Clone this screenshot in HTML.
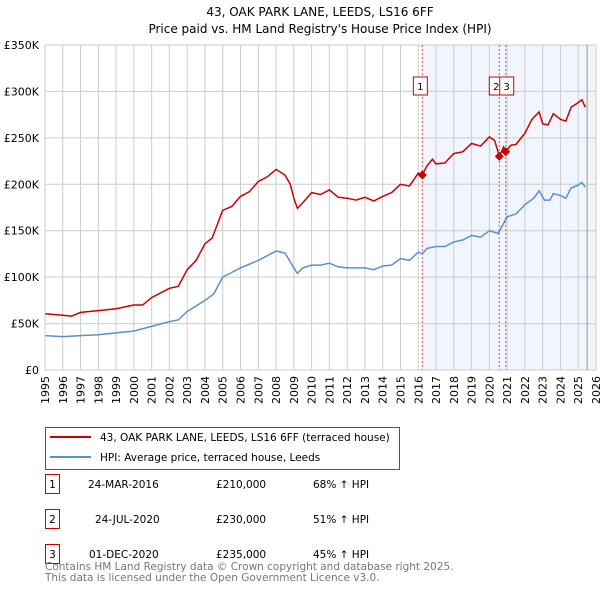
<!DOCTYPE html>
<html><head><meta charset="utf-8"><style>
body{margin:0;background:#fff;font-family:"Liberation Sans","DejaVu Sans",sans-serif;}
svg text{font-family:"DejaVu Sans","Liberation Sans",sans-serif;}
</style></head><body>
<svg id="c" width="600" height="590" xmlns="http://www.w3.org/2000/svg">
<text x="320" y="16" text-anchor="middle" font-size="12" fill="#000">43, OAK PARK LANE, LEEDS, LS16 6FF</text>
<text x="320" y="33" text-anchor="middle" font-size="12" fill="#000">Price paid vs. HM Land Registry's House Price Index (HPI)</text>
<g id="plot"></g>
<g>
<rect x="45.5" y="427.5" width="354" height="42" fill="#fff" stroke="#555"/>
<line x1="50" y1="437" x2="91" y2="437" stroke="#cc0000" stroke-width="2"/>
<text x="100" y="441" font-size="10.5">43, OAK PARK LANE, LEEDS, LS16 6FF (terraced house)</text>
<line x1="50" y1="457" x2="91" y2="457" stroke="#5b8fd4" stroke-width="2"/>
<text x="100" y="461" font-size="10.5">HPI: Average price, terraced house, Leeds</text>
</g>
<g font-size="10.5">
<rect x="45.5" y="474.5" width="14" height="19" fill="none" stroke="#cc0000"/><text x="52.5" y="488" text-anchor="middle">1</text>
<text x="88" y="488">24-MAR-2016</text><text x="216" y="488">£210,000</text><text x="313" y="488">68% ↑ HPI</text>
<rect x="45.5" y="509.5" width="14" height="19" fill="none" stroke="#cc0000"/><text x="52.5" y="523" text-anchor="middle">2</text>
<text x="95" y="523">24-JUL-2020</text><text x="216" y="523">£230,000</text><text x="313" y="523">51% ↑ HPI</text>
<rect x="45.5" y="544.5" width="14" height="19" fill="none" stroke="#cc0000"/><text x="52.5" y="558" text-anchor="middle">3</text>
<text x="89" y="558">01-DEC-2020</text><text x="216" y="558">£235,000</text><text x="313" y="558">45% ↑ HPI</text>
</g>
<text x="45" y="570" font-size="10.5" fill="#777">Contains HM Land Registry data © Crown copyright and database right 2025.</text>
<text x="45" y="581" font-size="10.5" fill="#777">This data is licensed under the Open Government Licence v3.0.</text>
</svg>
<script>
const yTicks=[0,50,100,150,200,250,300,350];
const yTickLabels=["£0","£50K","£100K","£150K","£200K","£250K","£300K","£350K"];
const years=[1995,1996,1997,1998,1999,2000,2001,2002,2003,2004,2005,2006,2007,2008,2009,2010,2011,2012,2013,2014,2015,2016,2017,2018,2019,2020,2021,2022,2023,2024,2025,2026];
const redT=[1995,1996,1996.5,1997,1998,1999,2000,2000.5,2001,2002,2002.5,2003,2003.5,2004,2004.4,2005,2005.5,2006,2006.5,2007,2007.5,2008,2008.5,2008.8,2009,2009.2,2009.5,2010,2010.5,2011,2011.5,2012,2012.5,2013,2013.5,2014,2014.5,2015,2015.5,2016,2016.23,2016.5,2016.8,2017,2017.5,2018,2018.5,2019,2019.5,2020,2020.3,2020.56,2020.8,2020.92,2021.2,2021.5,2022,2022.4,2022.8,2023,2023.3,2023.6,2024,2024.3,2024.6,2025,2025.2,2025.4];
const redV=[60.5,59,58,62,64,66,70,70,78,88,90,108,118,136,142,172,176,187,192,203,208,216,210,200,185,174,180,191,189,194,186,185,183,186,182,187,191,200,198,212,210,220,227,222,223,233,235,244,241,251,247,230,240,235,242,243,255,270,278,265,264,276,270,268,283,288,291,283];
const blueT=[1995,1996,1997,1998,1999,2000,2001,2002,2002.5,2003,2004,2004.5,2005,2005.5,2006,2007,2008,2008.5,2009,2009.2,2009.5,2010,2010.5,2011,2011.5,2012,2013,2013.5,2014,2014.5,2015,2015.5,2016,2016.23,2016.5,2017,2017.5,2018,2018.5,2019,2019.5,2020,2020.5,2021,2021.5,2022,2022.5,2022.8,2023.1,2023.4,2023.6,2024,2024.3,2024.6,2025,2025.2,2025.4];
const blueV=[37,36,37,38,40,42,47,52,54,63,75,82,100,105,110,118,128,126,110,104,110,113,113,115,111,110,110,108,112,113,120,118,127,125,131,133,133,138,140,145,143,150,147,165,168,178,185,193,183,183,190,188,185,196,199,202,197];
const saleLabels=["1","2","3"];
const saleT=[2016.23,2020.56,2020.92];
const saleV=[210,230,235];
const X0=45,X1=596,Y0=370,Y1=45;
const x=t=>X0+(t-1995)/31*(X1-X0);
const y=v=>Y0-v/350*(Y0-Y1);
const NS="http://www.w3.org/2000/svg";
const g=document.getElementById('plot');
function mk(tag,attrs,parent){const e=document.createElementNS(NS,tag);for(const k in attrs)e.setAttribute(k,attrs[k]);(parent||g).appendChild(e);return e;}
const shade=mk('rect',{x:x(saleT[0]),y:Y1,width:x(2025.5)-x(saleT[0]),height:Y0-Y1,fill:'#eef3fc',opacity:0.8});


const hatch=mk('rect',{x:x(2025.5),y:Y1,width:X1-x(2025.5),height:Y0-Y1,fill:'#f4f4f4'});


years.forEach(yr=>{
 const l=mk('line',{x1:x(yr),x2:x(yr),y1:Y1,y2:Y0,stroke:'#ccc'});
 
 
 const xx=x(yr),t=mk('text',{x:xx+4,y:Y0+6,'font-size':'11','text-anchor':'end',transform:`rotate(-90 ${xx+4} ${Y0+6})`});
 t.textContent=yr;
 
 
});
yTicks.forEach((v,i)=>{
 const l=mk('line',{x1:X0,x2:X1,y1:y(v),y2:y(v),stroke:'#ccc'});
 
 
 const t=mk('text',{x:X0-6,y:y(v)+4,'font-size':'11','text-anchor':'end'});
 t.textContent=yTickLabels[i];
 
 
});
const edge=mk('line',{x1:x(2025.5),x2:x(2025.5),y1:Y1,y2:Y0,stroke:'#999'});


saleT.forEach((t,i)=>{
 const l=mk('line',{x1:x(t),x2:x(t),y1:Y1,y2:Y0,stroke:'#e05050','stroke-dasharray':'2,2'});
 
 
});
const boxX=[x(saleT[0])-4,x(saleT[1])-7,x(saleT[2])-4];
saleT.forEach((t,i)=>{
 const bg=mk('g',{});
 
 
 const bx=i==0?x(t)-9:(i==1?x(t)-10:x(t)-6);
 mk('rect',{x:bx,y:77,width:14,height:18,fill:'#fff',stroke:'#cc0000'},bg);
 const tx=mk('text',{x:bx+7,y:90,'font-size':'10','text-anchor':'middle'},bg);tx.textContent=saleLabels[i];
});
const pts=(T,V)=>T.map((t,i)=>x(t).toFixed(1)+','+y(V[i]).toFixed(1)).join(' ');
const blue=mk('polyline',{points:pts(blueT,blueV),fill:'none',stroke:'#5b8fd4','stroke-width':1.5});


const red=mk('polyline',{points:pts(redT,redV),fill:'none',stroke:'#cc0000','stroke-width':1.5});


saleT.forEach((t,i)=>{
 const cx=x(t),cy=y(saleV[i]);
 const d=mk('polygon',{points:`${cx},${cy-4.5} ${cx+4.5},${cy} ${cx},${cy+4.5} ${cx-4.5},${cy}`,fill:'#cc0000'});
 
 
});
const ax=mk('line',{x1:X0,x2:X0,y1:Y1,y2:Y0,stroke:'#ccc'});


</script>
</body></html>
